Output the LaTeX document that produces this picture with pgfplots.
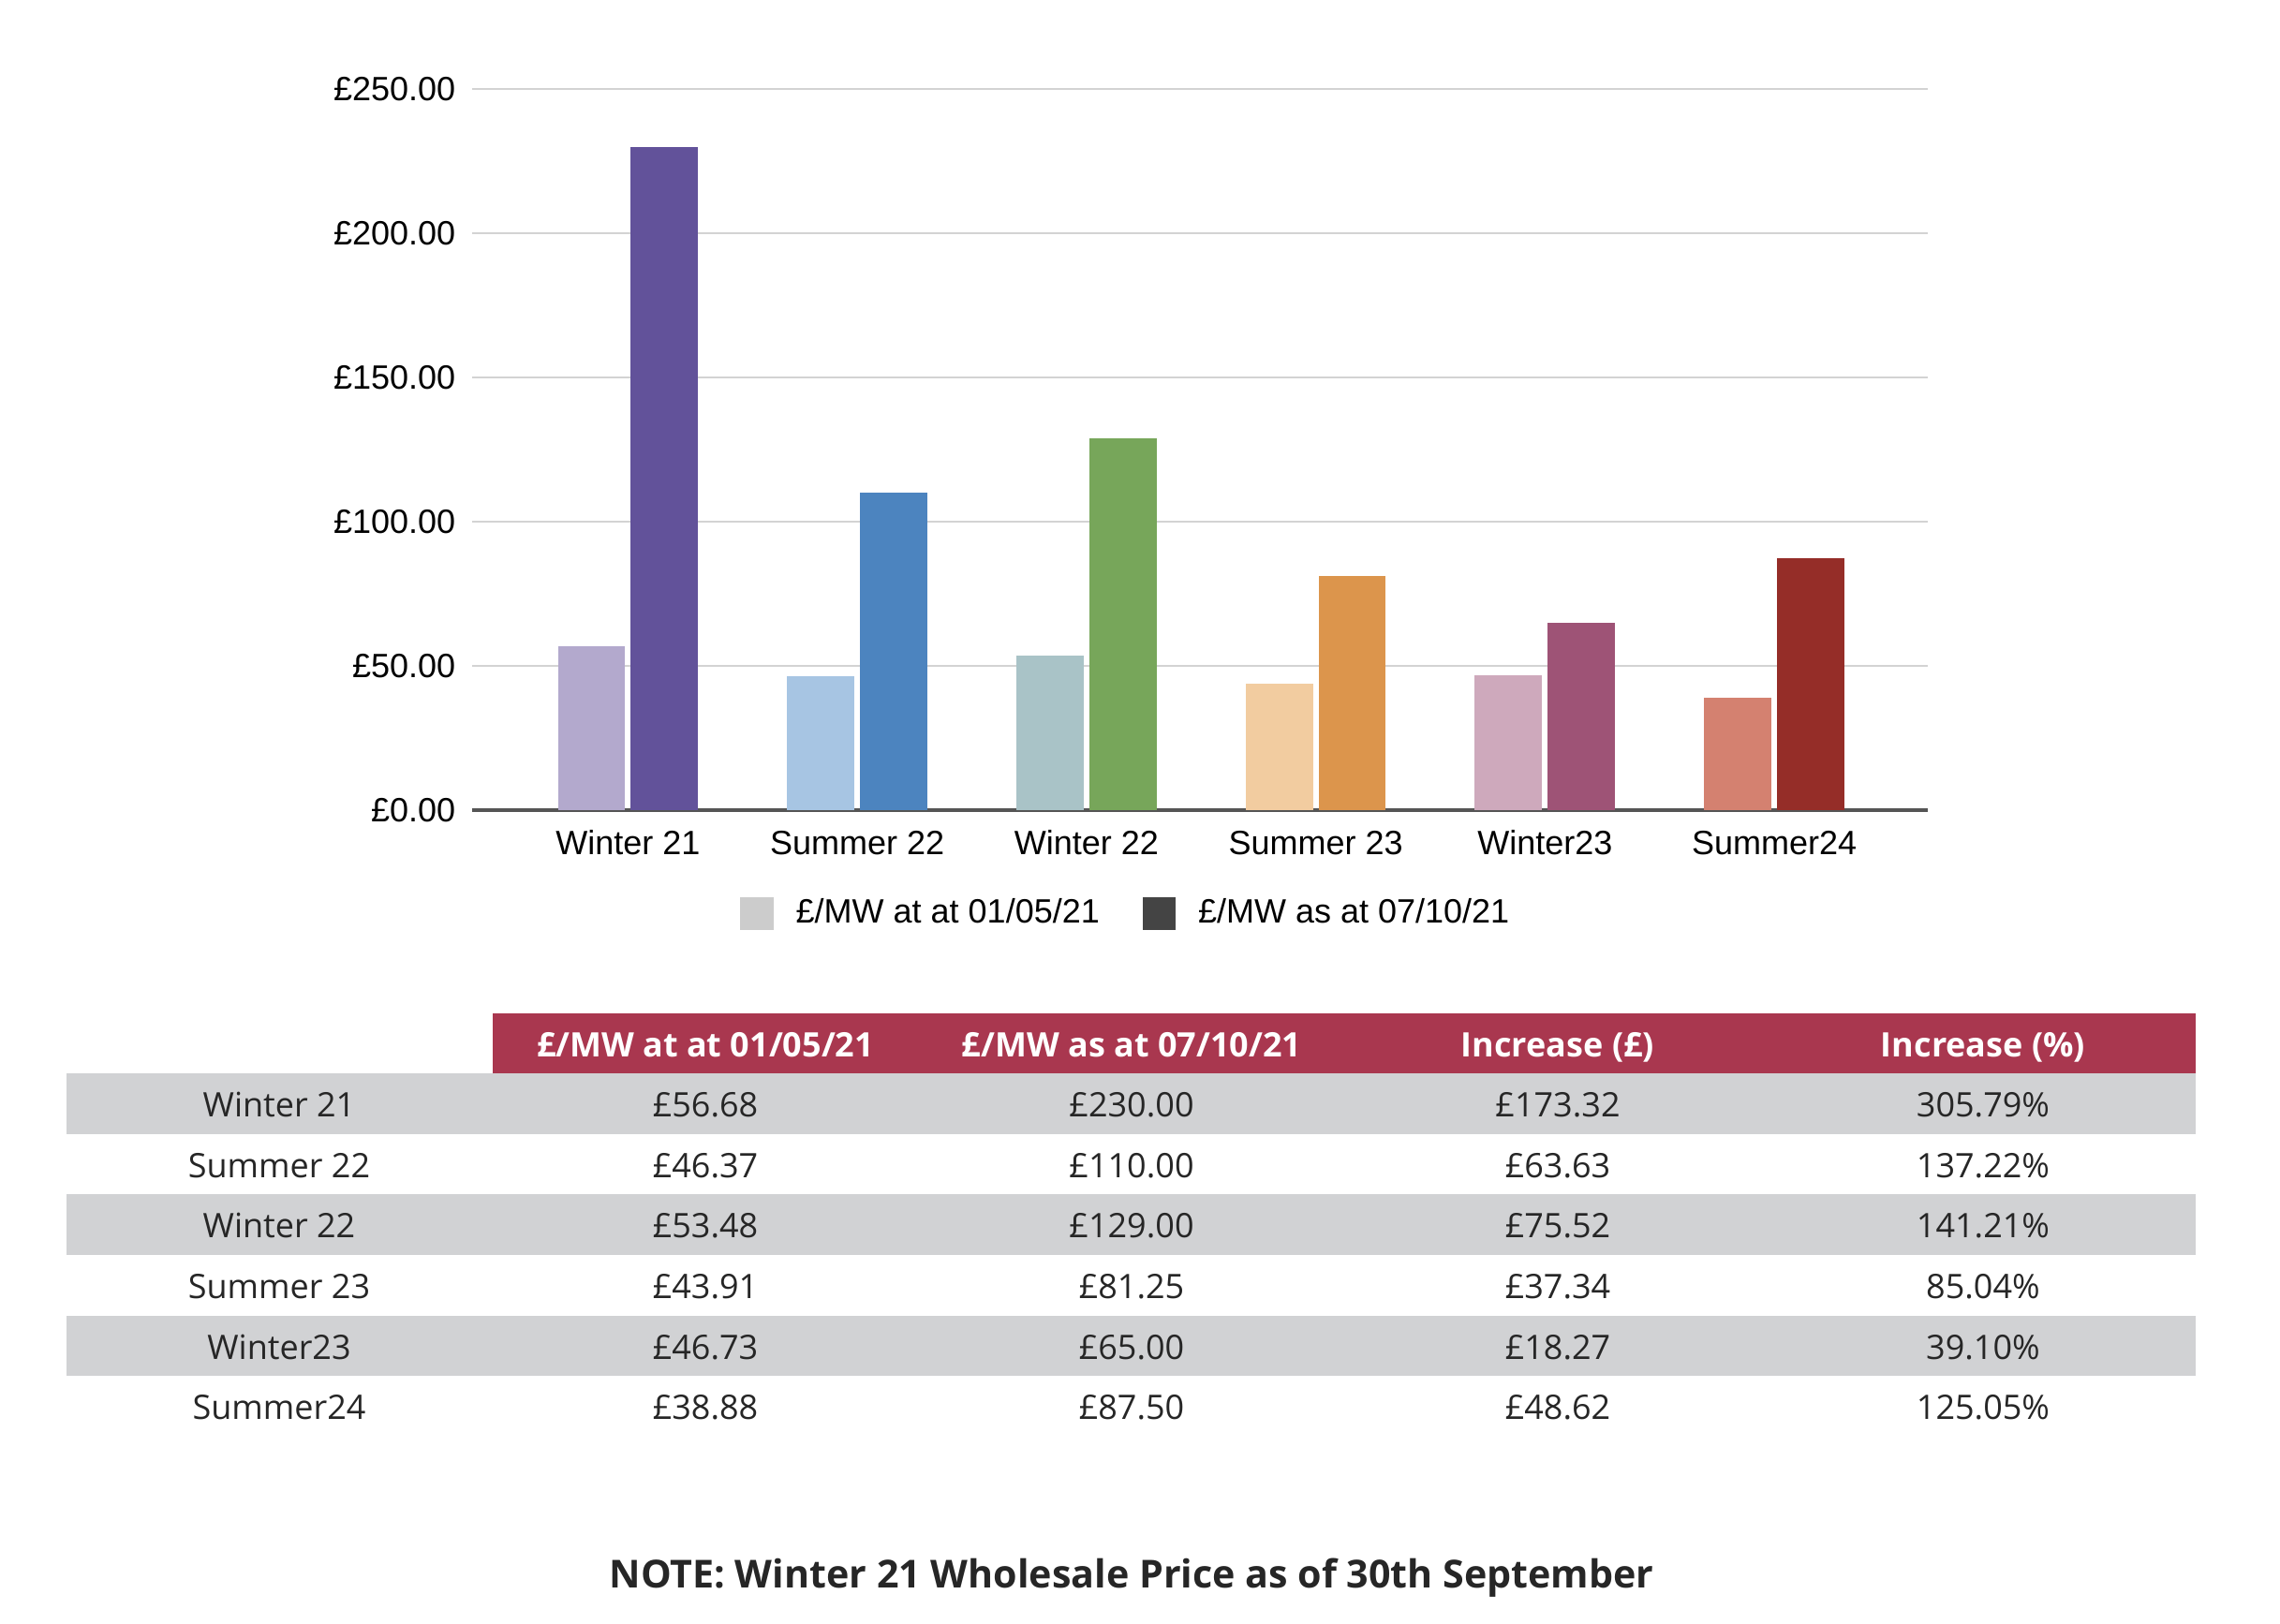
\documentclass[border=0pt]{standalone}
\usepackage{pgfplots}
\pgfplotsset{compat=1.18}
\usepackage{fontspec}
\setmainfont{Liberation Sans}
\newfontfamily\osans{Open Sans}
\definecolor{w21l}{HTML}{B3A9CD}\definecolor{w21d}{HTML}{62529A}
\definecolor{s22l}{HTML}{A7C5E3}\definecolor{s22d}{HTML}{4C84BF}
\definecolor{w22l}{HTML}{A9C3C7}\definecolor{w22d}{HTML}{77A65A}
\definecolor{s23l}{HTML}{F2CCA0}\definecolor{s23d}{HTML}{DC954C}
\definecolor{w23l}{HTML}{CEA9BC}\definecolor{w23d}{HTML}{9E5376}
\definecolor{s24l}{HTML}{D48170}\definecolor{s24d}{HTML}{952D28}
\definecolor{legl}{HTML}{CCCCCC}\definecolor{legd}{HTML}{444444}
\definecolor{gridgray}{HTML}{D3D3D3}\definecolor{axisgray}{HTML}{555555}
\definecolor{hdr}{HTML}{A9374F}\definecolor{rowgray}{HTML}{D1D2D4}
\definecolor{tabtext}{HTML}{262626}
\begin{document}
\begin{tikzpicture}
\path[use as bounding box] (0pt,0pt) rectangle (608.5pt,-433.5pt);
\begin{axis}[
  at={(126pt,-216.25pt)}, anchor=south west,
  scale only axis, width=388.5pt, height=192.5pt,
  xmin=-0.68, xmax=5.67, ymin=0, ymax=250,
  xtick={0,1,2,3,4,5},
  xticklabels={Winter 21,Summer 22,Winter 22,Summer 23,Winter23,Summer24},
  ytick={0,50,100,150,200,250},
  yticklabels={£0.00,£50.00,£100.00,£150.00,£200.00,£250.00},
  axis x line=bottom, axis y line=left,
  x axis line style={-, draw=axisgray, line width=0.9pt},
  y axis line style={draw=none},
  tick style={draw=none},
  ymajorgrids, grid style={gridgray, line width=0.6pt},
  tick label style={font=\fontsize{9}{11}\selectfont, text=black},
  xticklabel style={yshift=0.2pt},
  yticklabel style={xshift=1.2pt},
  clip=false,
  legend style={at={(0.451,-0.143)}, anchor=center, draw=none, fill=none,
    legend columns=2, font=\fontsize{9}{11}\selectfont,
    /tikz/every odd column/.append style={column sep=4pt},
    /tikz/every even column/.append style={column sep=9.5pt}},
  legend image code/.code={\fill[#1] (0pt,-4.4pt) rectangle (8.8pt,4.4pt);},
]
\addlegendimage{fill=legl, draw=none}
\addlegendentry{£/MW at at 01/05/21}
\addlegendimage{fill=legd, draw=none}
\addlegendentry{£/MW as at 07/10/21}
\pgfplotsset{lb/.style={ybar, bar width=0.294, bar shift=-0.159, draw=none, forget plot},
             db/.style={ybar, bar width=0.294, bar shift=0.159, draw=none, forget plot}}
\addplot[lb, fill=w21l] coordinates {(0,56.68)};
\addplot[db, fill=w21d] coordinates {(0,230.00)};
\addplot[lb, fill=s22l] coordinates {(1,46.37)};
\addplot[db, fill=s22d] coordinates {(1,110.00)};
\addplot[lb, fill=w22l] coordinates {(2,53.48)};
\addplot[db, fill=w22d] coordinates {(2,129.00)};
\addplot[lb, fill=s23l] coordinates {(3,43.91)};
\addplot[db, fill=s23d] coordinates {(3,81.25)};
\addplot[lb, fill=w23l] coordinates {(4,46.73)};
\addplot[db, fill=w23d] coordinates {(4,65.00)};
\addplot[lb, fill=s24l] coordinates {(5,38.88)};
\addplot[db, fill=s24d] coordinates {(5,87.50)};
\end{axis}
\begin{scope}[x=0.25pt,y=-0.25pt]
\fill[hdr] (526,1082) rectangle (2344,1146);
\foreach \k in {0,2,4} \fill[rowgray] (71,{1146+64.67*\k}) rectangle (2344,{1146+64.67*(\k+1)});
\tikzset{tc/.style={font=\osans\fontsize{9}{11}\selectfont, text=tabtext, text height=0.714em, text depth=0pt, inner sep=0pt, anchor=center},
         th/.style={font=\osans\bfseries\fontsize{9}{11}\selectfont, text=white, text height=0.714em, text depth=0pt, inner sep=0pt, anchor=center}}
\node[th] at (753,1114) {£/MW at at 01/05/21};
\node[th] at (1208,1114) {£/MW as at 07/10/21};
\node[th] at (1663,1114) {Increase (£)};
\node[th] at (2117,1114) {Increase (\%)};
\foreach \n/\a/\b/\c/\d [count=\i from 0] in {
  Winter 21/£56.68/£230.00/£173.32/305.79\%,
  Summer 22/£46.37/£110.00/£63.63/137.22\%,
  Winter 22/£53.48/£129.00/£75.52/141.21\%,
  Summer 23/£43.91/£81.25/£37.34/85.04\%,
  Winter23/£46.73/£65.00/£18.27/39.10\%,
  Summer24/£38.88/£87.50/£48.62/125.05\%} {
  \node[tc] at (298,{1146+64.67*(\i+0.5)}) {\n};
  \node[tc] at (753,{1146+64.67*(\i+0.5)}) {\a};
  \node[tc] at (1208,{1146+64.67*(\i+0.5)}) {\b};
  \node[tc] at (1663,{1146+64.67*(\i+0.5)}) {\c};
  \node[tc] at (2117,{1146+64.67*(\i+0.5)}) {\d};
}
\node[font=\osans\bfseries\fontsize{10.3}{12}\selectfont, text=tabtext, inner sep=0pt, text height=0.714em, text depth=0pt] at (1208,1681) {NOTE: Winter 21 Wholesale Price as of 30th September};
\end{scope}
\end{tikzpicture}
\end{document}
